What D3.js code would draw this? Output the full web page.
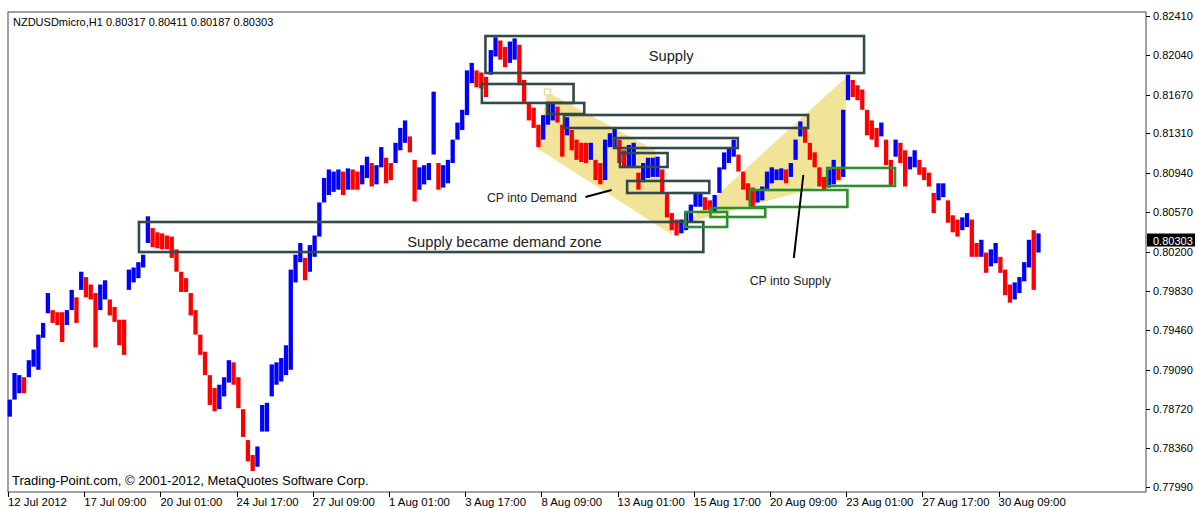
<!DOCTYPE html>
<meta charset="utf-8">
<style>
body { margin: 0; background: #ffffff; }
svg text { font-family: "Liberation Sans", Arial, sans-serif; }
</style>
<body>
<svg id="chart" width="1195" height="508"></svg>

<script src="https://d3js.org/d3.v7.min.js"></script>
<script>
// H4 groups of the H1 chart (every 4 hourly bars): highs and lows
var hi = [
  .7881,.7906,.7904,.7902,.7918,.7928,.7942,.7953,.7981,.7965,
  .7963,.7963,.7965,.7984,.7977,.8001,.7996,.7989,.7981,.7989,
  .7993,.7975,.7968,.7956,.7956,.8003,.8005,.8010,.8017,.8053,
  .8042,.8038,.8037,.8035,.8034,.8022,.8001,.7995,.7981,.7965,
  .7942,.7926,.7904,.7892,.7895,.7902,.7918,.7916,.7902,.7872,
  .7843,.7829,.7837,.7876,.7878,.7914,.7916,.7920,.7932,.8003,
  .8017,.8028,.8014,.8026,.8035,.8066,.8089,.8097,.8095,.8097,
  .8095,.8098,.8097,.8095,.8101,.8109,.8103,.8101,.8118,.8108,
  .8103,.8122,.8136,.8143,.8128,.8106,.8099,.8101,.8103,.8170,
  .8103,.8101,.8106,.8125,.8141,.8153,.8190,.8197,.8190,.8188,
  .8184,.8209,.8221,.8218,.8212,.8217,.8220,.8214,.8181,.8159,
  .8155,.8139,.8148,.8159,.8159,.8156,.8139,.8146,.8134,.8125,
  .8122,.8122,.8122,.8106,.8103,.8125,.8131,.8136,.8125,.8115,
  .8120,.8122,.8094,.8103,.8108,.8108,.8109,.8097,.8075,.8056,
  .8050,.8050,.8057,.8064,.8075,.8075,.8071,.8068,.8073,.8099,
  .8113,.8118,.8125,.8111,.8095,.8084,.8080,.8078,.8081,.8095,
  .8099,.8097,.8098,.8097,.8103,.8125,.8142,.8137,.8122,.8113,
  .8099,.8090,.8097,.8106,.8099,.8153,.8186,.8181,.8176,.8172,
  .8153,.8143,.8136,.8141,.8125,.8106,.8125,.8122,.8115,.8109,
  .8115,.8106,.8099,.8094,.8075,.8084,.8084,.8068,.8054,.8050,
  .8052,.8056,.8050,.8028,.8031,.8019,.8022,.8028,.8015,.8003,
  .7989,.7991,.7996,.8010,.8031,.8040,.8037
];
var lo = [
  .7865,.7881,.7887,.7887,.7902,.7912,.7909,.7939,.7962,.7953,
  .7951,.7935,.7951,.7965,.7953,.7984,.7977,.7975,.7930,.7965,
  .7975,.7960,.7954,.7932,.7923,.7984,.7991,.7995,.8005,.8028,
  .8024,.8023,.8022,.8022,.8014,.8001,.7982,.7982,.7960,.7942,
  .7923,.7904,.7876,.7870,.7872,.7884,.7897,.7895,.7873,.7846,
  .7823,.7814,.7818,.7851,.7851,.7884,.7895,.7898,.7904,.7909,
  .7991,.8010,.7993,.8001,.8015,.8034,.8066,.8073,.8076,.8078,
  .8073,.8078,.8078,.8078,.8083,.8089,.8081,.8083,.8099,.8084,
  .8087,.8103,.8115,.8122,.8113,.8067,.8078,.8083,.8087,.8111,
  .8078,.8080,.8084,.8103,.8125,.8134,.8148,.8178,.8174,.8173,
  .8165,.8186,.8203,.8200,.8193,.8197,.8200,.8176,.8159,.8143,
  .8136,.8118,.8125,.8139,.8143,.8141,.8109,.8129,.8115,.8106,
  .8104,.8103,.8106,.8087,.8083,.8087,.8118,.8118,.8103,.8099,
  .8099,.8099,.8078,.8085,.8089,.8090,.8090,.8075,.8052,.8040,
  .8035,.8037,.8040,.8048,.8062,.8062,.8059,.8059,.8057,.8075,
  .8097,.8103,.8109,.8095,.8078,.8068,.8062,.8066,.8068,.8078,
  .8084,.8087,.8087,.8084,.8090,.8106,.8128,.8122,.8106,.8099,
  .8081,.8078,.8080,.8083,.8087,.8090,.8162,.8165,.8162,.8153,
  .8129,.8125,.8118,.8128,.8101,.8081,.8109,.8103,.8081,.8097,
  .8099,.8092,.8087,.8081,.8056,.8068,.8071,.8047,.8038,.8034,
  .8040,.8043,.8015,.8015,.8015,.8000,.8006,.8009,.8000,.7979,
  .7972,.7975,.7981,.7992,.8005,.7984,.8019
];

var priceTicks = [0.82410, 0.82040, 0.81670, 0.81310, 0.80940, 0.80570, 0.80200,
                  0.79830, 0.79460, 0.79090, 0.78720, 0.78360, 0.77990];
var timeLabels = ["12 Jul 2012", "17 Jul 09:00", "20 Jul 01:00", "24 Jul 17:00", "27 Jul 09:00",
                  "1 Aug 01:00", "3 Aug 17:00", "8 Aug 09:00", "13 Aug 01:00", "15 Aug 17:00",
                  "20 Aug 09:00", "23 Aug 01:00", "27 Aug 17:00", "30 Aug 09:00"];
var barsPerLabel = 64;   // hourly bars between two time labels
var lastPrice = 0.80303;
var header = "NZDUSDmicro,H1  0.80317 0.80411 0.80187 0.80303";
var footer = "Trading-Point.com, \u00a9 2001-2012, MetaQuotes Software Corp.";

// zones: [from bar, to bar (hourly index), top price, bottom price]
var greyZones = [
  [401, 719, 0.82222, 0.81875],
  [398, 475, 0.81772, 0.81594],
  [453, 484, 0.81594, 0.81490],
  [467, 672, 0.81481, 0.81359],
  [509, 613, 0.81265, 0.81171],
  [514, 554, 0.81124, 0.80993],
  [520, 589, 0.80862, 0.80749],
  [110, 584, 0.80477, 0.80195]
];
var greenZones = [
  [569, 604, 0.80571, 0.80430],
  [590, 636, 0.80608, 0.80524],
  [623, 705, 0.80777, 0.80618],
  [688, 745, 0.80984, 0.80815]
];
// shaded triangles: list of [bar, price] corners
var wedgeDown = [[453, 0.81697], [543, 0.81153], [558, 0.80355], [444, 0.81171]];
var wedgeUp   = [[570, 0.80467], [705, 0.81847], [700, 0.80862]];
// annotation strokes
var strokes = [
  [[485, 0.80711], [507, 0.80777]],
  [[668, 0.80918], [660, 0.80139]]
];
// [text, bar, price, font size]
var notes = [
  ["Supply", 557, 0.82035, 14.7],
  ["Supply became demand zone", 417, 0.80289, 14.7],
  ["CP into Demand", 440, 0.80702, 12.3],
  ["CP into Supply", 657, 0.79923, 12.3]
];

var svg = d3.select("#chart");
var plot = {left: 8, right: 1146, top: 12, bottom: 492};

var x = d3.scaleLinear().domain([0, barsPerLabel]).range([8, 84.2]);
var y = d3.scaleLinear().domain([0.77990, 0.82410]).range([487, 16]);

svg.append("rect")
  .attr("x", plot.left).attr("y", plot.top)
  .attr("width", plot.right - plot.left).attr("height", plot.bottom - plot.top)
  .attr("fill", "#ffffff").attr("stroke", "#444").attr("stroke-width", 1);

var line = d3.line().x(function(d) { return x(d[0]); }).y(function(d) { return y(d[1]); });

// shaded areas go behind the bars
svg.selectAll(".wedge")
  .data([wedgeDown, wedgeUp])
  .enter().append("path")
  .attr("class", "wedge")
  .attr("d", function(d) { return line(d) + "Z"; })
  .attr("fill", "#f1e398");

// price bars
var bars = hi.map(function(h, i) {
  var mid = (h + lo[i]) / 2;
  var prev = i > 0 ? (hi[i - 1] + lo[i - 1]) / 2 : mid - 1;
  return {i: i, hi: h, lo: lo[i], up: mid >= prev};
});

svg.append("g")
  .selectAll("line")
  .data(bars)
  .enter().append("line")
  .attr("x1", function(d) { return x(d.i * 4 + 1.5); })
  .attr("x2", function(d) { return x(d.i * 4 + 1.5); })
  .attr("y1", function(d) { return y(d.hi); })
  .attr("y2", function(d) { return y(d.lo); })
  .attr("stroke", function(d) { return d.up ? "#0000ff" : "#ff0000"; })
  .attr("stroke-width", 4.3);

function drawZones(list, colour) {
  svg.append("g")
    .selectAll("rect")
    .data(list)
    .enter().append("rect")
    .attr("x", function(d) { return x(d[0]); })
    .attr("y", function(d) { return y(d[2]); })
    .attr("width", function(d) { return x(d[1]) - x(d[0]); })
    .attr("height", function(d) { return y(d[3]) - y(d[2]); })
    .attr("fill", "none")
    .attr("stroke", colour)
    .attr("stroke-width", 2.6);
}
drawZones(greyZones, "#34494a");
drawZones(greenZones, "#2f8f2f");

// small marker at the wedge corner
svg.append("rect")
  .attr("x", x(wedgeDown[0][0]) - 3).attr("y", y(wedgeDown[0][1]) - 3)
  .attr("width", 6).attr("height", 6)
  .attr("fill", "#ffffff").attr("stroke", "#e6d98c").attr("stroke-width", 1.2);

svg.selectAll(".stroke")
  .data(strokes)
  .enter().append("path")
  .attr("class", "stroke")
  .attr("d", line)
  .attr("fill", "none")
  .attr("stroke", "#000")
  .attr("stroke-width", 2);

svg.selectAll(".note")
  .data(notes)
  .enter().append("text")
  .attr("class", "note")
  .attr("x", function(d) { return x(d[1]); })
  .attr("y", function(d) { return y(d[2]) + d[3] * 0.36; })
  .attr("text-anchor", "middle")
  .attr("font-size", function(d) { return d[3]; })
  .attr("fill", "#222")
  .text(function(d) { return d[0]; });

// right price axis
var yAxis = svg.append("g");
yAxis.selectAll("line")
  .data(priceTicks)
  .enter().append("line")
  .attr("x1", plot.right).attr("x2", plot.right + 4)
  .attr("y1", function(d) { return Math.round(y(d)) + 0.5; })
  .attr("y2", function(d) { return Math.round(y(d)) + 0.5; })
  .attr("stroke", "#000");
yAxis.selectAll("text")
  .data(priceTicks)
  .enter().append("text")
  .attr("x", plot.right + 7)
  .attr("y", function(d) { return y(d) + 4; })
  .attr("font-size", 11)
  .attr("fill", "#000")
  .text(function(d) { return d.toFixed(5); });

svg.append("rect")
  .attr("x", plot.right + 1).attr("y", y(lastPrice) - 7)
  .attr("width", 50).attr("height", 13)
  .attr("fill", "#000");
svg.append("text")
  .attr("x", plot.right + 7).attr("y", y(lastPrice) + 4)
  .attr("font-size", 11).attr("fill", "#fff")
  .text(lastPrice.toFixed(5));

// time axis
var xAxis = svg.append("g");
xAxis.selectAll("line")
  .data(timeLabels)
  .enter().append("line")
  .attr("x1", function(d, i) { return Math.round(x(i * barsPerLabel)) + 0.5; })
  .attr("x2", function(d, i) { return Math.round(x(i * barsPerLabel)) + 0.5; })
  .attr("y1", plot.bottom).attr("y2", plot.bottom + 5)
  .attr("stroke", "#000");
xAxis.selectAll("text")
  .data(timeLabels)
  .enter().append("text")
  .attr("x", function(d, i) { return x(i * barsPerLabel); })
  .attr("y", 506)
  .attr("font-size", 11.4)
  .attr("fill", "#000")
  .text(function(d) { return d; });

svg.append("text")
  .attr("x", 13).attr("y", 26)
  .attr("font-size", 11).attr("fill", "#000")
  .text(header);

svg.append("text")
  .attr("x", 12).attr("y", 485)
  .attr("font-size", 13).attr("fill", "#000")
  .text(footer);
</script>
